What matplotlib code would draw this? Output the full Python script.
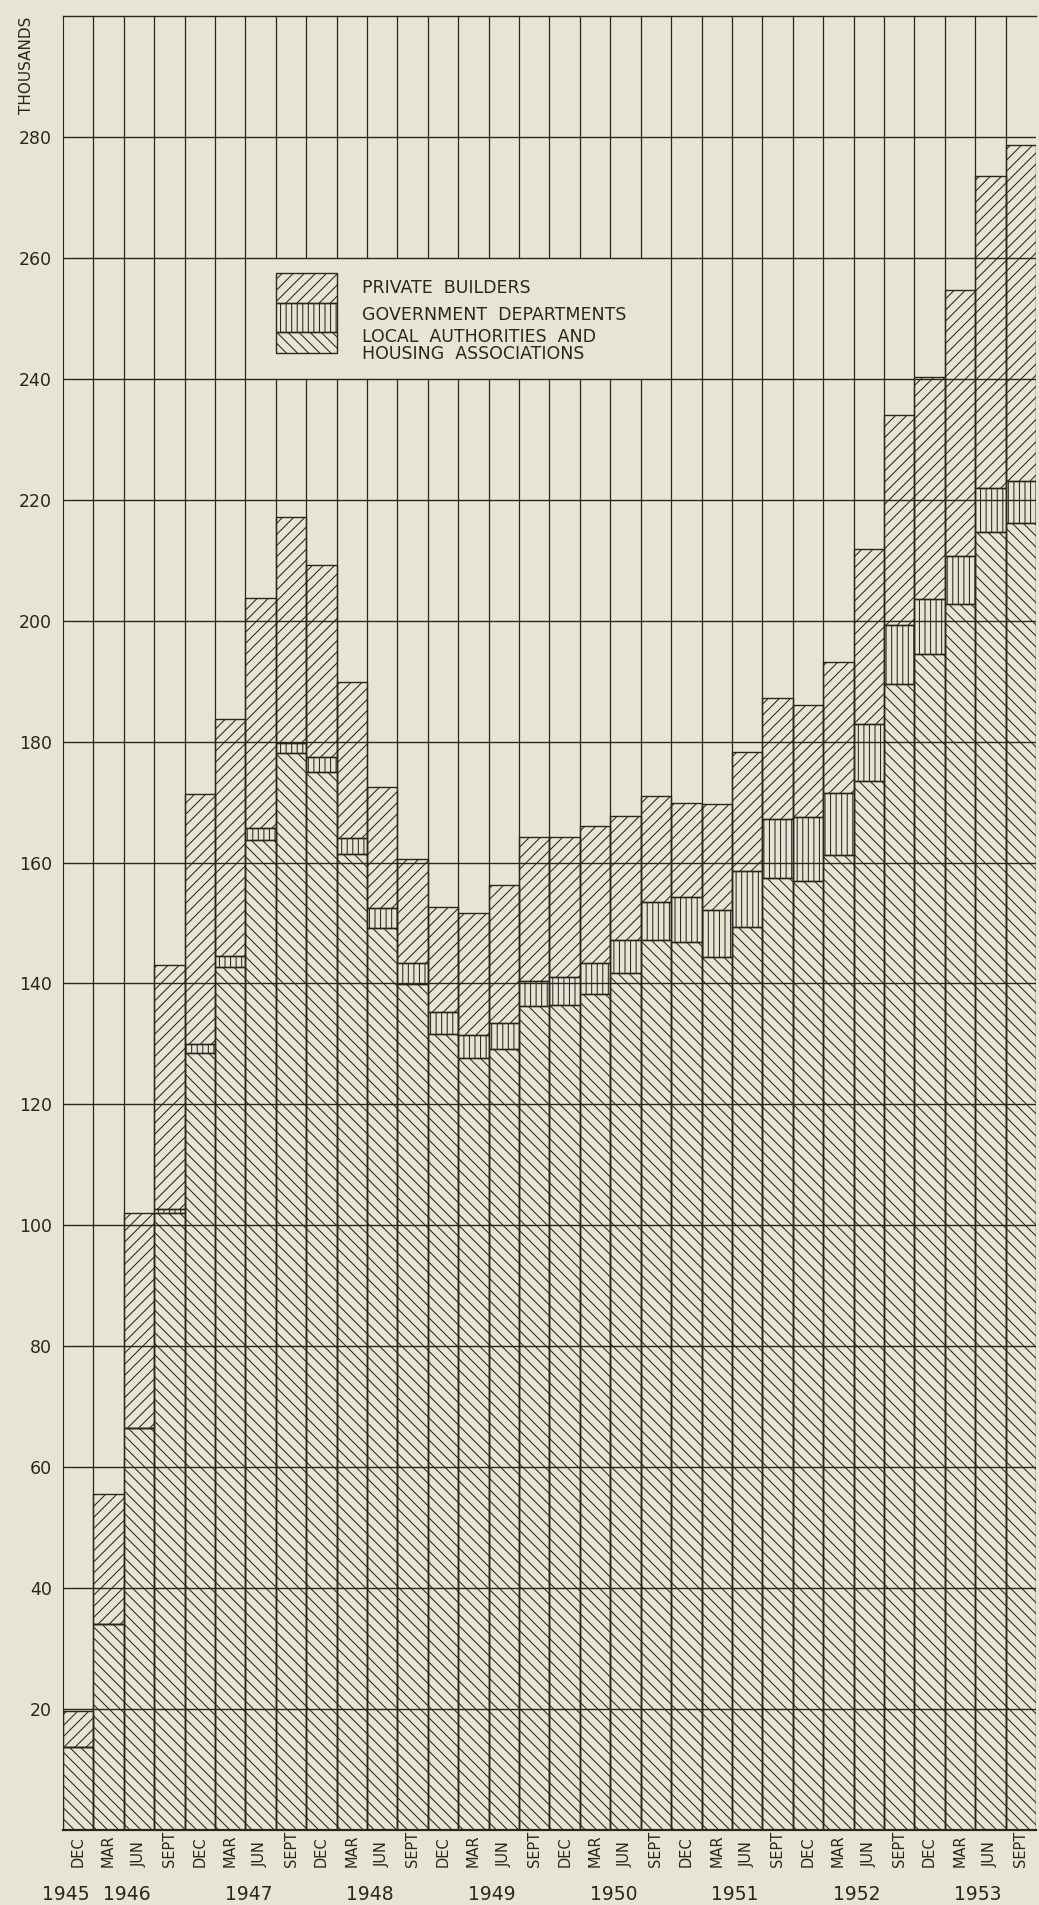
import numpy as np
import matplotlib
matplotlib.use("Agg")
import matplotlib.pyplot as plt
from matplotlib.patches import Rectangle
import matplotlib.transforms as mtransforms

# quarters, Dec 1945 .. Sept 1953 (thousands of houses)
months = ["DEC"] + ["MAR", "JUN", "SEPT", "DEC"] * 7 + ["MAR", "JUN", "SEPT"]
years = ["1945", "1946", "1947", "1948", "1949", "1950", "1951", "1952", "1953"]

local = [13.7, 34.1, 66.5, 102.1, 128.5, 142.7, 163.7, 178.1, 174.9, 161.4,
         149.2, 139.9, 131.6, 127.6, 129.2, 136.2, 136.4, 138.3, 141.7, 147.2,
         146.9, 144.4, 149.4, 157.4, 156.9, 161.2, 173.5, 189.6, 194.5, 202.7,
         214.6, 216.1]
govt = [0.0, 0.0, 0.0, 0.6, 1.5, 1.8, 2.0, 1.7, 2.6, 2.6,
        3.3, 3.5, 3.7, 3.8, 4.2, 4.2, 4.7, 5.0, 5.5, 6.2,
        7.4, 7.8, 9.2, 9.8, 10.6, 10.3, 9.4, 9.7, 9.0, 8.0,
        7.3, 7.0]
private = [5.9, 21.5, 35.6, 40.3, 41.4, 39.3, 38.1, 37.4, 31.7, 25.8,
           20.0, 17.2, 17.4, 20.3, 22.9, 23.9, 23.2, 22.7, 20.5, 17.6,
           15.5, 17.4, 19.7, 20.0, 18.6, 21.6, 29.0, 34.7, 36.8, 44.0,
           51.7, 55.5]

paper = "#e8e4d4"
ink = "#2a2520"

plt.rcParams["hatch.linewidth"] = 0.75
plt.rcParams["font.family"] = "DejaVu Sans"

fig = plt.figure(figsize=(10.39, 19.05), dpi=100, facecolor=paper)
ax = fig.add_axes([0.0606, 0.0394, 0.9365, 0.9522])
ax.set_facecolor(paper)

n = len(months)
x = np.arange(n)
local = np.array(local)
govt = np.array(govt)
private = np.array(private)

ax.set_xlim(0, n)
ax.set_ylim(0, 300)

# grid: horizontal every 20, vertical at every quarter boundary
# (vertical lines are left out behind the legend box)
for y in range(20, 300, 20):
    ax.axhline(y, color=ink, lw=1.0, zorder=1)
for b in range(1, n):
    if 7 <= b <= 19:
        ax.vlines(b, 0, 240, color=ink, lw=0.9, zorder=1)
        ax.vlines(b, 260, 300, color=ink, lw=0.9, zorder=1)
    else:
        ax.vlines(b, 0, 300, color=ink, lw=0.9, zorder=1)

ax.bar(x, local, width=1, align="edge", facecolor="none", edgecolor=ink,
       hatch="\\\\\\", lw=1.0, zorder=2)
ax.bar(x, govt, width=1, align="edge", bottom=local, facecolor="none",
       edgecolor=ink, hatch="|||", lw=1.0, zorder=2)
ax.bar(x, private, width=1, align="edge", bottom=local + govt,
       facecolor="none", edgecolor=ink, hatch="///", lw=1.0, zorder=2)

# legend drawn as in the original
ax.add_patch(Rectangle((7, 252.5), 2, 5.0, facecolor="none", edgecolor=ink,
                       hatch="///", lw=1.0, zorder=3))
ax.add_patch(Rectangle((7, 247.7), 2, 4.8, facecolor="none", edgecolor=ink,
                       hatch="|||", lw=1.0, zorder=3))
ax.add_patch(Rectangle((7, 244.2), 2, 3.5, facecolor="none", edgecolor=ink,
                       hatch="\\\\\\", lw=1.0, zorder=3))
legtxt = dict(fontsize=12.5, color=ink, ha="left", va="center", zorder=4)
ax.text(9.85, 255.0, "PRIVATE  BUILDERS", **legtxt)
ax.text(9.85, 250.5, "GOVERNMENT  DEPARTMENTS", **legtxt)
ax.text(9.85, 246.9, "LOCAL  AUTHORITIES  AND", **legtxt)
ax.text(9.85, 244.1, "HOUSING  ASSOCIATIONS", **legtxt)

# axes
for s in ["top", "right"]:
    ax.spines[s].set_visible(False)
ax.spines["left"].set_color(ink)
ax.spines["bottom"].set_color(ink)
ax.spines["bottom"].set_linewidth(1.6)
ax.axhline(300, color=ink, lw=1.0, zorder=1, clip_on=False)
ax.set_yticks(range(20, 300, 20))
ax.set_yticklabels([str(v) for v in range(20, 300, 20)], fontsize=12.5, color=ink)
ax.tick_params(axis="y", length=0, pad=8)
ax.set_xticks([])

trans = mtransforms.blended_transform_factory(ax.transData, ax.transAxes)
for i, m in enumerate(months):
    ax.text(i + 0.5, -0.0204, m, transform=trans, rotation=90, ha="center",
            va="bottom", fontsize=10.5, color=ink)

year_pos = [0.1] + [4 * k + 2.1 for k in range(len(years) - 1)]
for xp, yr in zip(year_pos, years):
    ax.text(xp, -0.0358, yr, transform=trans, ha="center", va="center",
            fontsize=13.5, color=ink)

ax.text(-0.037, 0.973, "THOUSANDS", transform=ax.transAxes, rotation=90,
        ha="center", va="center", fontsize=11, color=ink)

fig.savefig("out.png", dpi=100, facecolor=paper)
